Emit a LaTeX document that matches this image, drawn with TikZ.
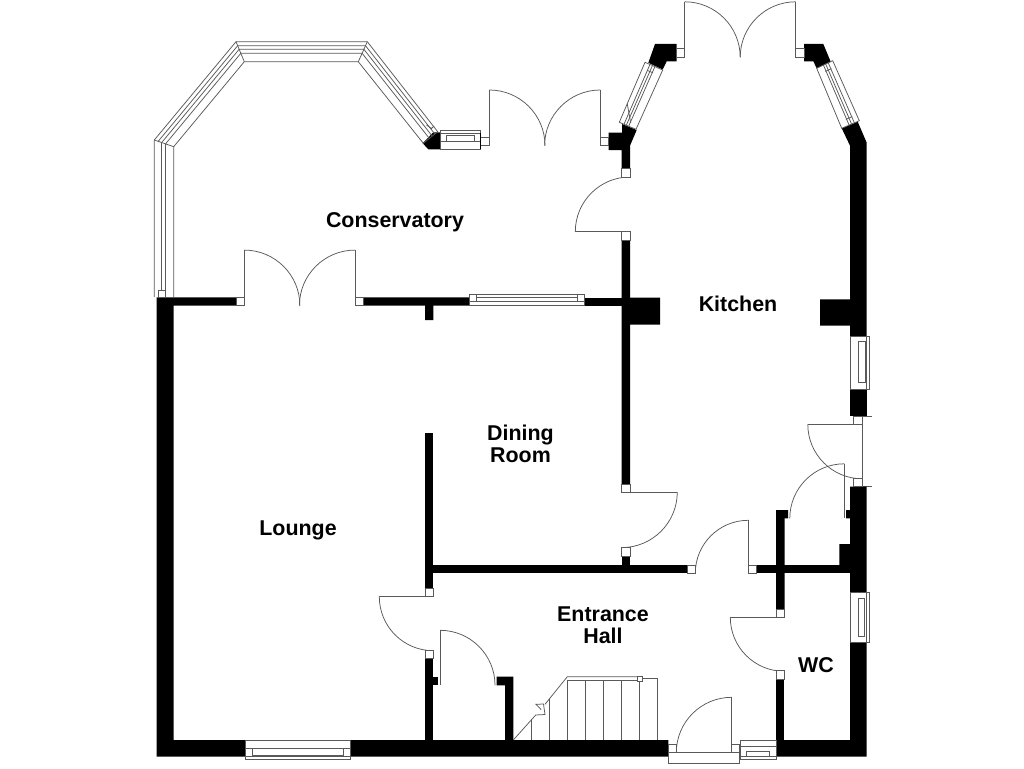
\documentclass[tikz,border=0pt]{standalone}
\usepackage{fontspec}
\setmainfont{Liberation Sans}
\usetikzlibrary{calc}
\tikzset{
  wall/.style={fill=black,draw=none},
  fine/.style={draw=black!65,line width=.75pt},
  jamb/.style={fine,fill=white},
  room/.style={font=\bfseries\fontsize{21.4}{22.5}\selectfont,align=center,inner sep=0pt}
}
\begin{document}
\begin{tikzpicture}[x=1pt,y=-1pt]
\useasboundingbox (0,0) rectangle (1024,768);
% door swings
\foreach \cx/\cy/\ra/\rb/\rad in {244.3/305.7/-90/0/55.6, 355/305.7/-90/-180/55.6, 489.3/145.7/-90/0/55.7, 600.3/145.7/-90/-180/55.7, 684.7/57.3/-90/0/55.5, 795.7/57.3/-90/-180/55.5, 630/231.7/-90/-180/54.7, 862.3/424.3/180/90/54.5, 844.3/518.3/-90/-180/54.5, 748.3/573.3/-90/-180/53, 621.7/492/0/90/55.6, 433.3/596.7/180/90/54, 440/685.3/-90/0/55, 784.3/617.3/180/90/54, 731.7/752.7/-90/-180/55.4}
  \draw[fine] (\cx,\cy) ++(\ra:\rad) arc (\ra:\rb:\rad);
% door leaves
\draw[fine] (244.3,250) -- (244.3,305.7);
\draw[fine] (355,250) -- (355,305.7);
\draw[fine] (489.3,90) -- (489.3,145.7);
\draw[fine] (600.3,90) -- (600.3,145.7);
\draw[fine] (684.7,1.8) -- (684.7,57.3);
\draw[fine] (795.7,1.8) -- (795.7,57.3);
\draw[fine] (575.3,231.7) -- (630,231.7);
\draw[fine] (807.8,424.3) -- (862.3,424.3);
\draw[fine] (862.3,416) -- (862.3,486.7);
\draw[fine] (862.3,416) -- (871.7,416);
\draw[fine] (862.3,486.7) -- (871.7,486.7);
\draw[fine] (844.3,463.8) -- (844.3,518.3);
\draw[fine] (748.3,520.3) -- (748.3,573.3);
\draw[fine] (622,492) -- (677.3,492);
\draw[fine] (379.3,596.7) -- (433.3,596.7);
\draw[fine] (440,630.3) -- (440,685.3);
\draw[fine] (730.3,617.3) -- (784.3,617.3);
\draw[fine] (731.7,697.3) -- (731.7,752.7);
% walls
\fill[wall] (156.7,297.3) -- (236,297.3) -- (236,305.7) -- (173.7,305.7) -- (173.7,740) -- (668.3,740) -- (668.3,756.7) -- (156.7,756.7) -- cycle;
\fill[wall] (363.3,297.3) -- (469.3,297.3) -- (469.3,305.7) -- (433.3,305.7) -- (433.3,320) -- (425,320) -- (425,305.7) -- (363.3,305.7) -- cycle;
\fill[wall] (584,297.5) rectangle (621.7,305.7);
\fill[wall] (621.7,240) -- (630,240) -- (630,297.7) -- (660,297.7) -- (660,324.7) -- (630,324.7) -- (630,484) -- (621.7,484) -- cycle;
\fill[wall] (425,433) rectangle (433.3,588.3);
\fill[wall] (433.3,565) rectangle (687,573.3);
\fill[wall] (621.7,556) rectangle (630,565);
\fill[wall] (425,658.3) rectangle (433.3,740);
\fill[wall] (433.3,676.7) rectangle (438.3,685.3);
\fill[wall] (496.7,676.7) -- (513.3,676.7) -- (513.3,740) -- (505,740) -- (505,685.3) -- (496.7,685.3) -- cycle;
\fill[wall] (756.7,565) rectangle (850,573.3);
\fill[wall] (776,510) -- (788,510) -- (788,518.3) -- (784.5,518.3) -- (784.5,609.3) -- (776,609.3) -- cycle;
\fill[wall] (776,679.3) rectangle (784.3,745);
\fill[wall] (776,740) -- (850,740) -- (850,642.3) -- (866.7,642.3) -- (866.7,756.7) -- (776,756.7) -- cycle;
\fill[wall] (850,486.7) -- (866.7,486.7) -- (866.7,592) -- (850,592) -- (850,565) -- (839.3,565) -- (839.3,544) -- (850,544) -- (850,518.3) -- (846,518.3) -- (846,510) -- (850,510) -- cycle;
\fill[wall] (841.7,128.3) -- (857.7,121.7) -- (866.7,142.7) -- (866.7,336.7) -- (850,336.7) -- (850,325.7) -- (820,325.7) -- (820,299.3) -- (850,299.3) -- (850,145.7) -- cycle;
\fill[wall] (850,389.3) rectangle (866.7,416);
\fill[wall] (608.7,132.7) -- (622,132.7) -- (622,124) -- (636.7,130) -- (630,145.7) -- (630,168.3) -- (621.7,168.3) -- (621.7,150) -- (608.7,150) -- cycle;
\fill[wall] (655,44) -- (676.7,44) -- (676.7,61.3) -- (666.7,61.3) -- (662.7,69.5) -- (648.3,62.8) -- cycle;
\fill[wall] (804,44) -- (823.3,44) -- (830.7,61.7) -- (816.7,68.3) -- (813.3,61.3) -- (804,61.3) -- cycle;
\fill[wall] (422.7,143.3) -- (433.3,132.3) -- (440,132.3) -- (440,149.3) -- (428.3,149.3) -- cycle;
% jambs
\foreach \xa/\ya/\xb/\yb in {236/297.3/244.3/305.7, 355/297.3/363.3/305.7, 480.7/137.3/489.3/145.7, 600.3/137.3/608.7/145.7, 621.7/168.3/630/177, 621.7/231.7/630/240, 676.7/48.7/684.7/57.3, 795.7/48.7/804/57.3, 853.7/416/862.3/424.3, 853.7/478.3/862.3/486.7, 621.7/484/630/492, 621.7/547.3/630/556, 687/565/695.7/573.3, 748.3/565/756.7/573.3, 776/609.3/784.3/617.3, 776/670.7/784.3/679.3, 425/588.3/433.3/596.7, 425/650/433.3/658.3, 668.3/744/676.7/752.7, 731.7/744/739.3/752.7}
  \draw[jamb] (\xa,\ya) rectangle (\xb,\yb);
\draw[jamb] (668.3,752.7) rectangle (739.3,763.3);
% straight windows
\draw[jamb] (245.3,740) rectangle (350.7,759.3);
\draw[fine] (245.3,748.3) -- (350.7,748.3);
\draw[fine] (245.3,756.7) -- (350.7,756.7);
\draw[fine] (252.7,748.3) rectangle (343.3,755);
\draw[jamb] (469.3,294.3) rectangle (584,305.5);
\draw[fine] (469.3,301.3) -- (584,301.3);
\draw[fine] (476,294.3) -- (476,301.3);
\draw[fine] (577.3,294.3) -- (577.3,301.3);
\draw[fine] (476,297) -- (577.3,297);
\draw[jamb] (440,130) rectangle (480.7,149.3);
\draw[fine] (440,133.3) -- (480.7,133.3);
\draw[fine] (440,141) -- (480.7,141);
\draw[fine] (446,135.5) rectangle (474,141);
\draw[line width=1.3pt] (480.7,133.3) -- (480.7,149.3);
\draw[jamb] (850,336.7) rectangle (869.7,389.3);
\draw[fine] (866.7,336.7) -- (866.7,389.3);
\draw[fine] (858.3,341.7) rectangle (865,382.7);
\draw[jamb] (850,592.3) rectangle (869.3,642.3);
\draw[fine] (866.7,592.3) -- (866.7,642.3);
\draw[fine] (858.7,598.3) rectangle (864.7,636.7);
\draw[jamb] (740,740) rectangle (776,759.3);
\draw[fine] (740,746.7) -- (776,746.7);
\draw[fine] (740,756) -- (776,756);
\draw[fine] (746.7,751.7) rectangle (769.3,756);
% conservatory bay
\coordinate (oa) at (154.3,297);
\coordinate (ob) at (154.3,140);
\coordinate (oc) at (236,41.7);
\coordinate (od) at (367.3,41.7);
\coordinate (oe) at (437.7,131.7);
\coordinate (ia) at (173.7,297);
\coordinate (ib) at (173.7,146.7);
\coordinate (ic) at (244.3,61.7);
\coordinate (id) at (358.3,61.7);
\coordinate (ie) at (423.3,143.3);
\draw[fine] (oa) -- (ob) -- (oc) -- (od) -- (oe) -- (ie) -- (id) -- (ic) -- (ib) -- (ia);
\draw[fine] (ob) -- (ib);
\draw[fine] (oc) -- (ic);
\draw[fine] (od) -- (id);
\foreach \f in {.34,.57}
  \draw[fine] ($(oa)!\f!(ia)$) -- ($(ob)!\f!(ib)$);
\foreach \f in {.2,.38,.58}{
  \draw[fine] ($(ob)!\f!(ib)$) -- ($(oc)!\f!(ic)$) -- ($(od)!\f!(id)$);
  \draw[fine] ($(od)!\f!(id)$) -- ($(oe)!\f!(ie)$);
}
\draw[jamb] (158,290) rectangle (165.3,297);
\draw[fine] (426.5,125) -- (431.5,128.5) -- (434,126);
% kitchen bay left
\coordinate (ka) at (619.3,122.3);
\coordinate (kb) at (645,62.3);
\coordinate (kc) at (662.7,70);
\coordinate (kd) at (636,129.3);
\draw[jamb] (ka) -- (kb) -- (kc) -- (kd) -- cycle;
\foreach \f in {.28,.42,.56}
  \draw[fine] ($(ka)!\f!(kd)$) -- ($(kb)!\f!(kc)$);
\draw[fine] ($(ka)!.28!(kb)!.04!(kb)$) -- ($(ka)!.56!(kd)!.06!(kc)$);
\draw[fine] ($(kb)!.3!(kc)!.1!(ka)$) -- ($(kb)!.56!(kc)!.1!(kd)$);
% kitchen bay right
\coordinate (ma) at (816.7,68.3);
\coordinate (mb) at (832.7,60.7);
\coordinate (mc) at (859.3,120.7);
\coordinate (md) at (841.7,128.3);
\draw[jamb] (ma) -- (mb) -- (mc) -- (md) -- cycle;
\foreach \f in {.42,.56,.72}
  \draw[fine] ($(ma)!\f!(mb)$) -- ($(md)!\f!(mc)$);
\draw[fine] ($(ma)!.42!(mb)!.1!(md)$) -- ($(ma)!.72!(mb)!.1!(mc)$);
\draw[fine] ($(md)!.42!(mc)!.1!(ma)$) -- ($(md)!.72!(mc)!.1!(mb)$);
% stairs
\draw[fine] (513.3,740) -- (535.7,715) -- (545,714.5) -- (543.5,704) -- (536,704.3) -- (541,709.5) (545,704.3) -- (567.3,676.7) -- (642.7,676.7);
\draw[fine] (567.3,680) -- (637.3,680);
\draw[fine] (531.3,719.3) -- (531.3,740);
\draw[fine] (549.3,699.3) -- (549.3,740);
\foreach \tread in {567.3,585.3,603.3,621.7,639.3}
  \draw[fine] (\tread,680) -- (\tread,740);
\draw[fine] (642.7,678.3) -- (657.3,678.3) -- (657.3,740);
\draw[jamb] (637.3,676) rectangle (642.7,681.3);
% rooms
\node[room] (conservatory) at (395,222.5) {Conservatory};
\node[room] (kitchen) at (738,304) {Kitchen};
\node[room] (dining) at (520.5,444) {Dining\\Room};
\node[room] (lounge) at (298,530.5) {Lounge};
\node[room] (hall) at (603,625) {Entrance\\Hall};
\node[room] (wc) at (816,665.5) {WC};
\end{tikzpicture}
\end{document}
